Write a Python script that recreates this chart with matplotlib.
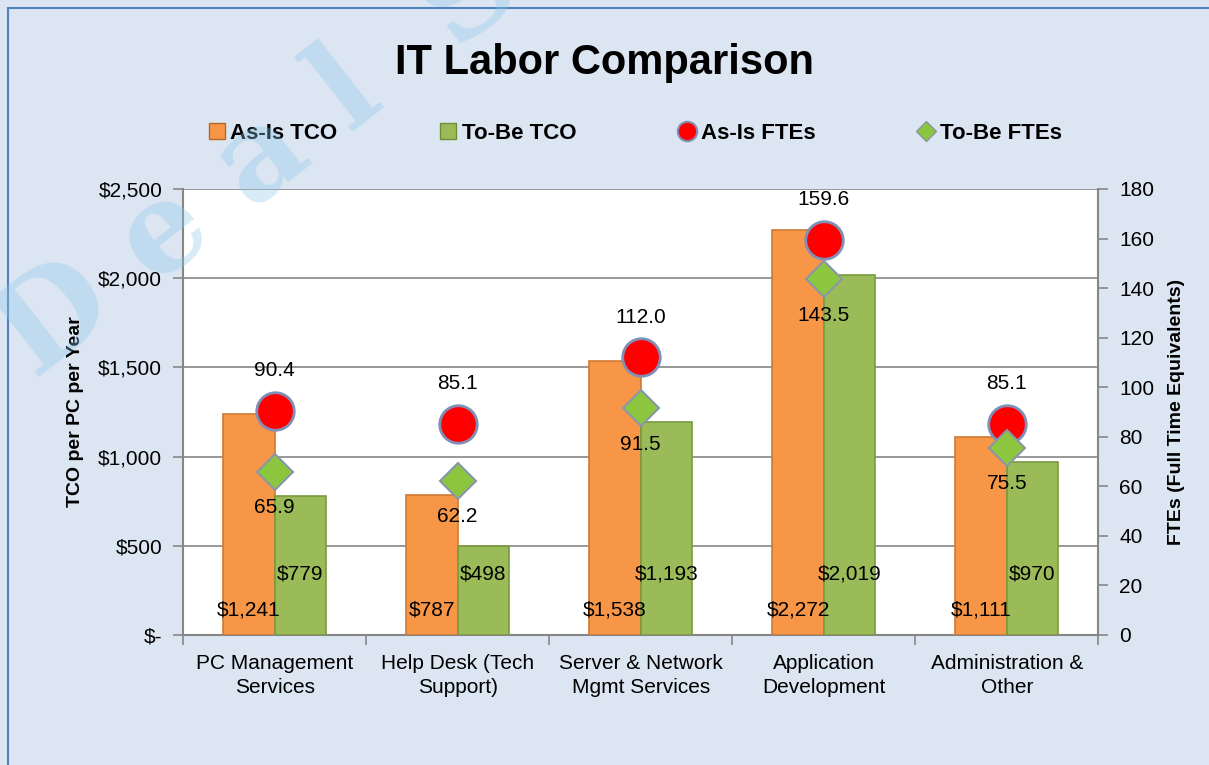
import numpy as np
import matplotlib.pyplot as plt
from matplotlib.lines import Line2D
from matplotlib.patches import Rectangle
from matplotlib.ticker import FuncFormatter

categories = ["PC Management\nServices", "Help Desk (Tech\nSupport)", "Server & Network\nMgmt Services",
              "Application\nDevelopment", "Administration &\nOther"]
asis_tco = [1241, 787, 1538, 2272, 1111]
tobe_tco = [779, 498, 1193, 2019, 970]
asis_fte = [90.4, 85.1, 112.0, 159.6, 85.1]
tobe_fte = [65.9, 62.2, 91.5, 143.5, 75.5]

plt.rcParams['font.family'] = ['Liberation Sans', 'DejaVu Sans']

orange = '#F79646'
green = '#9BBB59'
bg = '#DCE6F2'

fig = plt.figure(figsize=(12.09, 7.65), dpi=100, facecolor=bg)
fig.patches.append(Rectangle((0.007, -0.01), 1.0, 1.0, transform=fig.transFigure,
                             fill=False, edgecolor='#4F81BD', lw=1.5))

ax = fig.add_axes([0.1514, 0.170, 0.757, 0.583])
ax.set_facecolor('white')
x = np.arange(len(categories))
w = 0.28

ax.bar(x - w / 2, asis_tco, w, color=orange, edgecolor='#D07A34', lw=1.2, zorder=3)
ax.bar(x + w / 2, tobe_tco, w, color=green, edgecolor='#7A9A40', lw=1.2, zorder=3)

ax.set_ylim(0, 2500)
ax.set_xlim(-0.5, len(categories) - 0.5)
ax.set_yticks(np.arange(0, 2501, 500))
ax.yaxis.set_major_formatter(FuncFormatter(lambda v, p: '$-' if v == 0 else f'${v:,.0f}'))
ax.grid(axis='y', color='#868686', lw=1.2, zorder=0)
ax.set_xticks(x)
ax.set_xticklabels(categories, fontsize=15, linespacing=1.3)
ax.set_xticks(np.arange(-0.5, len(categories)), minor=True)
ax.tick_params(axis='x', which='major', length=0, pad=14)
ax.tick_params(axis='x', which='minor', length=7, color='#868686', width=1.2)
ax.tick_params(axis='y', labelsize=15, length=7, color='#868686', width=1.2, pad=8)
for s in ['top', 'right']:
    ax.spines[s].set_visible(False)
for s in ['left', 'bottom']:
    ax.spines[s].set_color('#868686')
    ax.spines[s].set_linewidth(1.5)
ax.set_ylabel('TCO per PC per Year', fontsize=14, fontweight='bold', labelpad=10)

for xi, v in zip(x, asis_tco):
    ax.text(xi - w / 2, 140, f'${v:,}', ha='center', va='center', fontsize=15, zorder=6)
for xi, v in zip(x, tobe_tco):
    ax.text(xi + w / 2, 340, f'${v:,}', ha='center', va='center', fontsize=15, zorder=6)

ax2 = ax.twinx()
ax2.set_ylim(0, 180)
ax2.set_yticks(np.arange(0, 181, 20))
ax2.tick_params(axis='y', labelsize=15, length=7, color='#868686', width=1.2, pad=8)
for s in ['top', 'left', 'bottom']:
    ax2.spines[s].set_visible(False)
ax2.spines['right'].set_color('#868686')
ax2.spines['right'].set_linewidth(1.5)
ax2.set_ylabel('FTEs (Full Time Equivalents)', fontsize=14, fontweight='bold', labelpad=10)

ax2.plot(x, asis_fte, 'o', ms=27, mfc='#FF0000', mec='#7F8FB8', mew=2, ls='none', zorder=5)
ax2.plot(x, tobe_fte, 'D', ms=18, mfc='#8CC63F', mec='#8A96A8', mew=1.5, ls='none', zorder=5)
for xi, v in zip(x, asis_fte):
    ax2.annotate(f'{v:.1f}', (xi, v), xytext=(0, 29), textcoords='offset points',
                 ha='center', va='center', fontsize=15)
for xi, v in zip(x, tobe_fte):
    ax2.annotate(f'{v:.1f}', (xi, v), xytext=(0, -26), textcoords='offset points',
                 ha='center', va='center', fontsize=15)

fig.text(0.5, 0.918, 'IT Labor Comparison', ha='center', va='center', fontsize=30, fontweight='bold')

handles = [
    Line2D([], [], marker='s', ls='none', ms=11, mfc=orange, mec='#B8672A'),
    Line2D([], [], marker='s', ls='none', ms=11, mfc=green, mec='#6F8C38'),
    Line2D([], [], marker='o', ls='none', ms=14, mfc='#FF0000', mec='#7F8FB8', mew=1.5),
    Line2D([], [], marker='D', ls='none', ms=10, mfc='#8CC63F', mec='#8A96A8'),
]
labels = ['As-Is TCO', 'To-Be TCO', 'As-Is FTEs', 'To-Be FTEs']
fig.legend(handles, labels, loc='center', bbox_to_anchor=(0.525, 0.826), ncol=4, frameon=False,
           prop={'size': 16, 'weight': 'bold'}, handlelength=0.8, handletextpad=0.2, columnspacing=4.6)

fig.text(0.215, 0.79, 'D e a l  S', rotation=38, fontsize=90, family='DejaVu Serif', fontweight='bold',
         color='#8CC8EA', alpha=0.35, ha='center', va='center', zorder=10)

fig.savefig('out.png', dpi=100, facecolor=bg)
